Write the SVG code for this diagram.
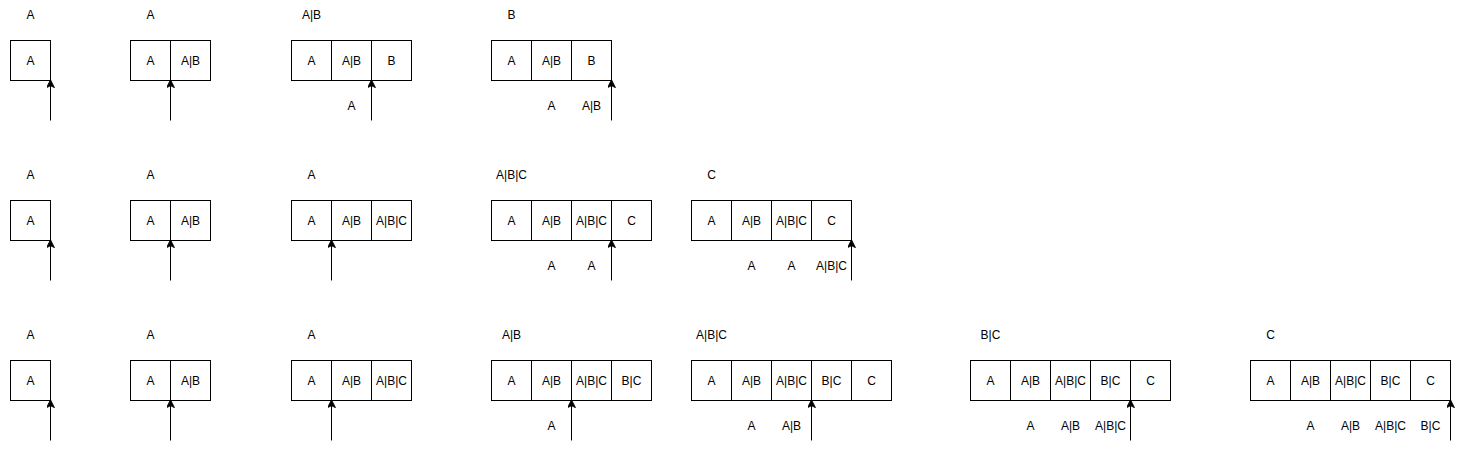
<svg xmlns="http://www.w3.org/2000/svg" width="1461" height="449" viewBox="0 0 1461 449">
<style>
.c{fill:#fff;stroke:#000;stroke-width:1}
text{font-family:"Liberation Sans",Arial,sans-serif;font-size:12px;fill:#000;text-anchor:middle}
.a{stroke:#000;stroke-width:1;fill:none;marker-end:url(#ah)}
</style>
<defs>
<marker id="ah" viewBox="0 0 10 10" refX="9" refY="5" markerWidth="8" markerHeight="8" markerUnits="userSpaceOnUse" orient="auto">
<path d="M0,0 L10,5 L0,10 L2.5,5 Z" fill="#000" stroke="#000" stroke-width="1"/>
</marker>
</defs>
<rect width="1461" height="449" fill="#fff"/>
<g transform="translate(0.5,0.5)">
<!-- Row 1 -->
<g id="r1s1"><text x="30" y="18">A</text><rect class="c" x="10" y="40" width="40" height="40"/><text x="30" y="64">A</text></g>
<g id="r1s2"><text x="150" y="18">A</text><rect class="c" x="130" y="40" width="40" height="40"/><text x="150" y="64">A</text><rect class="c" x="170" y="40" width="40" height="40"/><text x="190" y="64">A|B</text></g>
<g id="r1s3"><text x="311" y="18">A|B</text><rect class="c" x="291" y="40" width="40" height="40"/><text x="311" y="64">A</text><rect class="c" x="331" y="40" width="40" height="40"/><text x="351" y="64">A|B</text><rect class="c" x="371" y="40" width="40" height="40"/><text x="391" y="64">B</text><text x="351" y="109">A</text></g>
<g id="r1s4"><text x="511" y="18">B</text><rect class="c" x="491" y="40" width="40" height="40"/><text x="511" y="64">A</text><rect class="c" x="531" y="40" width="40" height="40"/><text x="551" y="64">A|B</text><rect class="c" x="571" y="40" width="40" height="40"/><text x="591" y="64">B</text><text x="551" y="109">A</text><text x="591" y="109">A|B</text></g>
<!-- Row 2 -->
<g id="r2s1"><text x="30" y="178">A</text><rect class="c" x="10" y="200" width="40" height="40"/><text x="30" y="224">A</text></g>
<g id="r2s2"><text x="150" y="178">A</text><rect class="c" x="130" y="200" width="40" height="40"/><text x="150" y="224">A</text><rect class="c" x="170" y="200" width="40" height="40"/><text x="190" y="224">A|B</text></g>
<g id="r2s3"><text x="311" y="178">A</text><rect class="c" x="291" y="200" width="40" height="40"/><text x="311" y="224">A</text><rect class="c" x="331" y="200" width="40" height="40"/><text x="351" y="224">A|B</text><rect class="c" x="371" y="200" width="40" height="40"/><text x="391" y="224">A|B|C</text></g>
<g id="r2s4"><text x="511" y="178">A|B|C</text><rect class="c" x="491" y="200" width="40" height="40"/><text x="511" y="224">A</text><rect class="c" x="531" y="200" width="40" height="40"/><text x="551" y="224">A|B</text><rect class="c" x="571" y="200" width="40" height="40"/><text x="591" y="224">A|B|C</text><rect class="c" x="611" y="200" width="40" height="40"/><text x="631" y="224">C</text><text x="551" y="269">A</text><text x="591" y="269">A</text></g>
<g id="r2s5"><text x="711" y="178">C</text><rect class="c" x="691" y="200" width="40" height="40"/><text x="711" y="224">A</text><rect class="c" x="731" y="200" width="40" height="40"/><text x="751" y="224">A|B</text><rect class="c" x="771" y="200" width="40" height="40"/><text x="791" y="224">A|B|C</text><rect class="c" x="811" y="200" width="40" height="40"/><text x="831" y="224">C</text><text x="751" y="269">A</text><text x="791" y="269">A</text><text x="831" y="269">A|B|C</text></g>
<!-- Row 3 -->
<g id="r3s1"><text x="30" y="338">A</text><rect class="c" x="10" y="360" width="40" height="40"/><text x="30" y="384">A</text></g>
<g id="r3s2"><text x="150" y="338">A</text><rect class="c" x="130" y="360" width="40" height="40"/><text x="150" y="384">A</text><rect class="c" x="170" y="360" width="40" height="40"/><text x="190" y="384">A|B</text></g>
<g id="r3s3"><text x="311" y="338">A</text><rect class="c" x="291" y="360" width="40" height="40"/><text x="311" y="384">A</text><rect class="c" x="331" y="360" width="40" height="40"/><text x="351" y="384">A|B</text><rect class="c" x="371" y="360" width="40" height="40"/><text x="391" y="384">A|B|C</text></g>
<g id="r3s4"><text x="511" y="338">A|B</text><rect class="c" x="491" y="360" width="40" height="40"/><text x="511" y="384">A</text><rect class="c" x="531" y="360" width="40" height="40"/><text x="551" y="384">A|B</text><rect class="c" x="571" y="360" width="40" height="40"/><text x="591" y="384">A|B|C</text><rect class="c" x="611" y="360" width="40" height="40"/><text x="631" y="384">B|C</text><text x="551" y="429">A</text></g>
<g id="r3s5"><text x="711" y="338">A|B|C</text><rect class="c" x="691" y="360" width="40" height="40"/><text x="711" y="384">A</text><rect class="c" x="731" y="360" width="40" height="40"/><text x="751" y="384">A|B</text><rect class="c" x="771" y="360" width="40" height="40"/><text x="791" y="384">A|B|C</text><rect class="c" x="811" y="360" width="40" height="40"/><text x="831" y="384">B|C</text><rect class="c" x="851" y="360" width="40" height="40"/><text x="871" y="384">C</text><text x="751" y="429">A</text><text x="791" y="429">A|B</text></g>
<g id="r3s6"><text x="990" y="338">B|C</text><rect class="c" x="970" y="360" width="40" height="40"/><text x="990" y="384">A</text><rect class="c" x="1010" y="360" width="40" height="40"/><text x="1030" y="384">A|B</text><rect class="c" x="1050" y="360" width="40" height="40"/><text x="1070" y="384">A|B|C</text><rect class="c" x="1090" y="360" width="40" height="40"/><text x="1110" y="384">B|C</text><rect class="c" x="1130" y="360" width="40" height="40"/><text x="1150" y="384">C</text><text x="1030" y="429">A</text><text x="1070" y="429">A|B</text><text x="1110" y="429">A|B|C</text></g>
<g id="r3s7"><text x="1270" y="338">C</text><rect class="c" x="1250" y="360" width="40" height="40"/><text x="1270" y="384">A</text><rect class="c" x="1290" y="360" width="40" height="40"/><text x="1310" y="384">A|B</text><rect class="c" x="1330" y="360" width="40" height="40"/><text x="1350" y="384">A|B|C</text><rect class="c" x="1370" y="360" width="40" height="40"/><text x="1390" y="384">B|C</text><rect class="c" x="1410" y="360" width="40" height="40"/><text x="1430" y="384">C</text><text x="1310" y="429">A</text><text x="1350" y="429">A|B</text><text x="1390" y="429">A|B|C</text><text x="1430" y="429">B|C</text></g>
<!-- Connectors -->
<g id="connectors">
<line class="a" x1="50" y1="120" x2="50" y2="80"/>
<line class="a" x1="170" y1="120" x2="170" y2="80"/>
<line class="a" x1="371" y1="120" x2="371" y2="80"/>
<line class="a" x1="611" y1="120" x2="611" y2="80"/>
<line class="a" x1="50" y1="280" x2="50" y2="240"/>
<line class="a" x1="170" y1="280" x2="170" y2="240"/>
<line class="a" x1="331" y1="280" x2="331" y2="240"/>
<line class="a" x1="611" y1="280" x2="611" y2="240"/>
<line class="a" x1="851" y1="280" x2="851" y2="240"/>
<line class="a" x1="50" y1="440" x2="50" y2="400"/>
<line class="a" x1="170" y1="440" x2="170" y2="400"/>
<line class="a" x1="331" y1="440" x2="331" y2="400"/>
<line class="a" x1="571" y1="440" x2="571" y2="400"/>
<line class="a" x1="811" y1="440" x2="811" y2="400"/>
<line class="a" x1="1130" y1="440" x2="1130" y2="400"/>
<line class="a" x1="1450" y1="440" x2="1450" y2="400"/>
</g>
</g>
</svg>
